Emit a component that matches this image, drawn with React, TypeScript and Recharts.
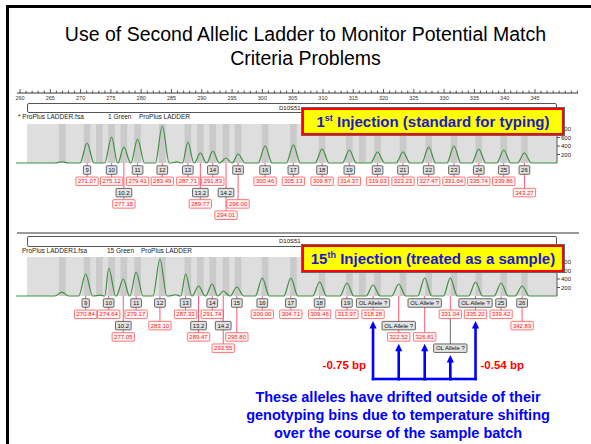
import React from 'react';
import { ComposedChart, Line, Scatter, XAxis, YAxis, ReferenceArea } from 'recharts';

const FONT = '"Liberation Sans", Arial, Helvetica, sans-serif';

// ---------- ruler (bp scale) ----------
const RULER_LABELS = [260, 265, 270, 275, 280, 285, 290, 295, 300, 305, 310, 315, 320, 325, 330, 335, 340, 345];
const RULER_MIN = 259.5;
const RULER_MAX = 352.1;
const RULER_TICKS: number[] = [];
for (let v = 260; v <= 352; v++) RULER_TICKS.push(v);

// ---------- electropherogram axes ----------
const X_MIN = 259.34;
const X_MAX = 348.65;
const GRAY_START = 261.16;
const GRAY_END = 348.65;
const Y_MAX = 920;
const Y_TICKS = [200, 400, 600, 800];

// genotyping bins (bp)
const BIN_CENTERS = [267.0, 271.07, 273.1, 275.12, 277.15, 279.41, 283.49, 287.71, 289.77, 291.83, 294.01, 296.0,
  300.46, 305.13, 309.87, 314.37, 316.5, 319.03, 323.23, 327.47, 331.64, 335.74, 339.86, 343.27];

// ---------- panel 1 : 1st injection ladder ----------
const LADDER_ALLELES = ['9', '10', '10.2', '11', '12', '13', '13.2', '14', '14.2', '15', '16', '17', '18', '19', '20', '21', '22', '23', '24', '25', '26'];
const LADDER_SIZES = [271.07, 275.12, 277.15, 279.41, 283.49, 287.71, 289.77, 291.83, 294.01, 296.0, 300.46, 305.13, 309.87, 314.37, 319.03, 323.23, 327.47, 331.64, 335.74, 339.86, 343.27];
const LADDER_HEIGHTS = [472, 613, 377, 566, 873, 495, 236, 283, 118, 212, 401, 425, 330, 307, 259, 259, 377, 401, 330, 307, 236];
const LADDER_MINOR_BP = [266.9, 285.9];
const LADDER_MINOR_H = [30, 25];
// label layout rows (1 = just under baseline)
const LADDER_GRAY_ROW = [1, 1, 3, 1, 1, 1, 3, 1, 3, 1, 1, 1, 1, 1, 1, 1, 1, 1, 1, 1, 1];
const LADDER_RED_ROW = [2, 2, 4, 2, 2, 2, 4, 2, 5, 4, 2, 2, 2, 2, 2, 2, 2, 2, 2, 2, 3];

// ---------- panel 2 : 15th injection (as sample) ----------
const SAMPLE_ALLELES = ['9', '10', '10.2', '11', '12', '13', '13.2', '14', '14.2', '15', '16', '17', '18', '19', 'OL Allele ?', 'OL Allele ?', 'OL Allele ?', 'OL Allele ?', 'OL Allele ?', '25', '26'];
const SAMPLE_SIZES = [270.84, 274.64, 277.05, 279.17, 283.10, 287.33, 289.47, 291.74, 293.55, 295.80, 300.00, 304.71, 309.46, 313.97, 318.28, 322.52, 326.81, 331.04, 335.20, 339.42, 342.89];
const SAMPLE_HEIGHTS = [519, 660, 401, 566, 873, 519, 236, 283, 118, 212, 425, 425, 330, 307, 260, 283, 425, 425, 330, 307, 236];
const SAMPLE_MINOR_BP = [266.9, 273.3, 285.7];
const SAMPLE_MINOR_H = [90, 20, 30];
const SAMPLE_GRAY_ROW = [1, 1, 3, 1, 1, 1, 3, 1, 3, 1, 1, 1, 1, 1, 1, 3, 1, 5, 1, 1, 1];
const SAMPLE_RED_ROW = [2, 2, 4, 2, 3, 2, 4, 2, 5, 4, 2, 2, 2, 2, 2, 4, 4, 2, 2, 2, 3];

const DRIFT_NOTES = ['-0.75 bp', '-0.54 bp'];

// ---------- layout constants ----------
const CHART_W = 591;
const PLOT_LEFT = 16;
const Y_AXIS_W = 22;
const RIGHT_MARGIN = 12;
const PLOT_H = 39;
const PX_PER_BP = (CHART_W - PLOT_LEFT - RIGHT_MARGIN - Y_AXIS_W) / (X_MAX - X_MIN);
const ROW0 = 7;
const ROW_STEP = 11.3;
const BOX_H = 8.5;
const BRACKET_DY = 83;
const PEAK_HALF = 1.15;

const CHAR_W: Record<string, number> = { '.': 0.278, ' ': 0.278, 'O': 0.778, 'L': 0.556, 'A': 0.667, 'l': 0.222, 'e': 0.556, '?': 0.556 };
function textW(s: string, fs: number) {
  let w = 0;
  for (const ch of s) w += CHAR_W[ch] !== undefined ? CHAR_W[ch] : 0.556;
  return w * fs;
}
const rowY = (cy: number, r: number) => cy + ROW0 + (r - 1) * ROW_STEP;

function buildTrace(sizes: number[], heights: number[], minorBp: number[], minorH: number[]) {
  const peaks = sizes.map((s, i) => ({ bp: s, h: heights[i] }))
    .concat(minorBp.map((b, i) => ({ bp: b, h: minorH[i] })))
    .sort((a, b) => a.bp - b.bp);
  const pts: { bp: number; rfu: number }[] = [{ bp: X_MIN, rfu: 0 }];
  peaks.forEach((p, i) => {
    const gl = i > 0 ? (p.bp - peaks[i - 1].bp) / 2 - 0.03 : PEAK_HALF;
    const gr = i < peaks.length - 1 ? (peaks[i + 1].bp - p.bp) / 2 - 0.03 : PEAK_HALF;
    pts.push({ bp: p.bp - Math.min(PEAK_HALF, gl), rfu: 0 });
    pts.push({ bp: p.bp, rfu: p.h });
    pts.push({ bp: p.bp + Math.min(PEAK_HALF, gr), rfu: 0 });
  });
  pts.push({ bp: X_MAX, rfu: 0 });
  return pts;
}

const LabelShape = (props: any) => {
  const { cx, cy, payload } = props;
  if (cx == null || cy == null) return <g />;
  const g = rowY(cy, payload.grayRow);
  const r = rowY(cy, payload.redRow);
  const gw = textW(payload.allele, 6) + 4;
  const rw = textW(payload.size, 6) + 4;
  return (
    <g fontFamily={FONT}>
      <line x1={cx} x2={cx} y1={cy} y2={r - BOX_H / 2} stroke="#f46" strokeWidth={0.9} />
      {payload.grayRow > payload.redRow && (
        <line x1={cx} x2={cx} y1={r + BOX_H / 2} y2={g - BOX_H / 2} stroke="#555" strokeWidth={0.9} />
      )}
      <rect x={cx - gw / 2} y={g - BOX_H / 2} width={gw} height={BOX_H} fill="#e2e2e2" stroke="#444" strokeWidth={0.8} rx={0.8} />
      <text x={cx} y={g + 2.1} fontSize={6} textAnchor="middle" fill="#111">{payload.allele}</text>
      <rect x={cx - rw / 2} y={r - BOX_H / 2} width={rw} height={BOX_H} fill="#fff4f4" stroke="#f55" strokeWidth={0.8} rx={0.8} />
      <text x={cx} y={r + 2.1} fontSize={6} textAnchor="middle" fill="#e22">{payload.size}</text>
    </g>
  );
};

const BracketShape = (props: any) => {
  const { cx, cy, payload } = props;
  if (cx == null || cy == null) return <g />;
  const tip = rowY(cy, payload.lowRow) + BOX_H / 2 + 2.5;
  const by = cy + BRACKET_DY;
  const blue = '#0000ff';
  return (
    <g fontFamily={FONT}>
      <line x1={cx} x2={cx} y1={by} y2={tip + 6} stroke={blue} strokeWidth={2.6} strokeLinecap="square" />
      <polygon points={`${cx - 3.6},${tip + 7.5} ${cx + 3.6},${tip + 7.5} ${cx},${tip}`} fill={blue} />
      {payload.prevBp != null && (
        <line x1={cx - (payload.bp - payload.prevBp) * PX_PER_BP} x2={cx} y1={by} y2={by} stroke={blue} strokeWidth={2.6} strokeLinecap="square" />
      )}
      {payload.noteLeft && (
        <text x={cx - 7} y={by - 10} fontSize={11.5} fontWeight="bold" fill="#ff0000" textAnchor="end">{payload.noteLeft}</text>
      )}
      {payload.noteRight && (
        <text x={cx + 5} y={by - 10} fontSize={11.5} fontWeight="bold" fill="#ff0000" textAnchor="start">{payload.noteRight}</text>
      )}
    </g>
  );
};

const RulerTick = (props: any) => {
  const { x, y, payload } = props;
  const v = payload.value;
  const major = RULER_LABELS.includes(v);
  return (
    <g>
      <line x1={x} x2={x} y1={y} y2={y - (major ? 4 : 2.5)} stroke="#333" strokeWidth={0.8} />
      {major && (
        <text x={x} y={y + 7} fontSize={5.5} textAnchor="middle" fill="#333" fontFamily={FONT}>{v}</text>
      )}
    </g>
  );
};

function Ruler({ top }: { top: number }) {
  return (
    <div style={{ position: 'absolute', left: 0, top }}>
      <ComposedChart width={CHART_W} height={24} data={[{ bp: 260 }]} margin={{ top: 0, right: 13, bottom: 10, left: 17 }}>
        <XAxis type="number" dataKey="bp" orientation="top" height={7} domain={[RULER_MIN, RULER_MAX]}
          ticks={RULER_TICKS} interval={0} tickSize={0} tickMargin={0} tick={<RulerTick />} stroke="#333" />
        <YAxis hide />
      </ComposedChart>
    </div>
  );
}

type PanelProps = {
  top: number; height: number; alleles: string[]; sizes: number[]; heights: number[];
  minorBp: number[]; minorH: number[]; grayRows: number[]; redRows: number[]; bracket?: boolean;
};

function Panel(p: PanelProps) {
  const trace = buildTrace(p.sizes, p.heights, p.minorBp, p.minorH);
  const labels = p.sizes.map((s, i) => ({
    bp: s, rfu: 0, allele: p.alleles[i], size: s.toFixed(2), grayRow: p.grayRows[i], redRow: p.redRows[i],
  }));
  let bracketData: any[] = [];
  if (p.bracket) {
    const drifted = labels.filter((l) => l.allele.startsWith('OL'));
    bracketData = drifted.map((d, k) => ({
      bp: d.bp, rfu: 0, lowRow: Math.max(d.grayRow, d.redRow),
      prevBp: k > 0 ? drifted[k - 1].bp : null,
      noteLeft: k === 0 ? DRIFT_NOTES[0] : null,
      noteRight: k === drifted.length - 1 ? DRIFT_NOTES[1] : null,
    }));
  }
  return (
    <div style={{ position: 'absolute', left: 0, top: p.top }}>
      <ComposedChart width={CHART_W} height={p.height} data={trace}
        margin={{ top: 24, right: RIGHT_MARGIN, bottom: p.height - 24 - PLOT_H, left: PLOT_LEFT }}>
        <XAxis type="number" dataKey="bp" domain={[X_MIN, X_MAX]} hide />
        <YAxis orientation="right" type="number" domain={[0, Y_MAX]} ticks={Y_TICKS} interval={0} width={Y_AXIS_W}
          tickSize={3} tickMargin={1} tick={{ fontSize: 6, fill: '#222', fontFamily: FONT }} stroke="#555" />
        <ReferenceArea x1={GRAY_START} x2={GRAY_END} y1={0} y2={Y_MAX} fill="#dedede" fillOpacity={1} stroke="none" ifOverflow="visible" />
        {BIN_CENTERS.map((c) => (
          <ReferenceArea key={c} x1={c - 0.55} x2={c + 0.55} y1={0} y2={Y_MAX} fill="#cacaca" fillOpacity={1} stroke="none" />
        ))}
        <Line type="monotone" dataKey="rfu" stroke="#3f8f3f" strokeWidth={1.2} dot={false} activeDot={false} isAnimationActive={false} />
        <Scatter data={labels} dataKey="rfu" shape={LabelShape} isAnimationActive={false} />
        {p.bracket && <Scatter data={bracketData} dataKey="rfu" shape={BracketShape} isAnimationActive={false} />}
      </ComposedChart>
    </div>
  );
}

const abs = (s: React.CSSProperties): React.CSSProperties => ({ position: 'absolute', ...s });

function Callout({ top, num, sup, text }: { top: number; num: string; sup: string; text: string }) {
  return (
    <div style={abs({
      left: 302, top, width: 262, height: 27, boxSizing: 'border-box', background: '#ffff00',
      border: '2.5px solid #ff0000', outline: '1px solid #666', display: 'flex', alignItems: 'center', justifyContent: 'center',
      fontFamily: FONT, fontWeight: 'bold', fontSize: 15, color: '#1a1acc', whiteSpace: 'nowrap',
    })}>
      <span>{num}<sup style={{ fontSize: 9, verticalAlign: 'top', lineHeight: '10px' }}>{sup}</sup>{text}</span>
    </div>
  );
}

function InfoLine({ top, parts }: { top: number; parts: [number, string][] }) {
  return (
    <>
      {parts.map(([x, t]) => (
        <div key={t} style={abs({ left: x, top, fontFamily: FONT, fontSize: 6.5, color: '#222', whiteSpace: 'nowrap', lineHeight: '8px' })}>{t}</div>
      ))}
    </>
  );
}

function MarkerBar({ top, h }: { top: number; h: number }) {
  return (
    <>
      <div style={abs({ left: 27, top, width: 530, height: h, boxSizing: 'border-box', border: '1px solid #555', borderRadius: 2, background: '#fff' })} />
      <div style={abs({ left: 279, top: top + 2, fontFamily: FONT, fontSize: 6, lineHeight: '7px', color: '#111' })}>D10S51</div>
    </>
  );
}

export default function App() {
  return (
    <div style={abs({ left: 0, top: 0, width: 591, height: 444, overflow: 'hidden', background: '#fff' })}>
      <div style={abs({ left: 6, top: 5, width: 620, height: 460, borderLeft: '3px solid #000', borderTop: '3px solid #000' })} />
      <div style={abs({ left: 0, top: 22, width: 611, textAlign: 'center', fontFamily: FONT, fontSize: 19.5, lineHeight: '24px', color: '#000' })}>
        Use of Second Allelic Ladder to Monitor Potential Match<br />Criteria Problems
      </div>

      <Ruler top={86} />
      <Panel top={100} height={125} alleles={LADDER_ALLELES} sizes={LADDER_SIZES} heights={LADDER_HEIGHTS}
        minorBp={LADDER_MINOR_BP} minorH={LADDER_MINOR_H} grayRows={LADDER_GRAY_ROW} redRows={LADDER_RED_ROW} />
      <Panel top={233} height={160} alleles={SAMPLE_ALLELES} sizes={SAMPLE_SIZES} heights={SAMPLE_HEIGHTS}
        minorBp={SAMPLE_MINOR_BP} minorH={SAMPLE_MINOR_H} grayRows={SAMPLE_GRAY_ROW} redRows={SAMPLE_RED_ROW} bracket />

      <MarkerBar top={103} h={10} />
      <InfoLine top={113} parts={[[18, '* ProPlus LADDER.fsa'], [108, '1 Green'], [139, 'ProPlus LADDER']]} />

      <div style={abs({ left: 17, top: 232, width: 562, height: 2, background: '#9a9a9a' })} />
      <MarkerBar top={236} h={11} />
      <InfoLine top={247} parts={[[22, 'ProPlus LADDER1.fsa'], [107, '15 Green'], [141, 'ProPlus LADDER ']]} />

      <Callout top={108} num="1" sup="st" text=" Injection (standard for typing)" />
      <Callout top={245} num="15" sup="th" text=" Injection (treated as a sample)" />

      <div style={abs({ left: 200, top: 388, width: 396, textAlign: 'center', fontFamily: FONT, fontWeight: 'bold', fontSize: 14.5, lineHeight: '18px', color: '#0000ff' })}>
        These alleles have drifted outside of their<br />genotyping bins due to temperature shifting<br />over the course of the sample batch
      </div>
    </div>
  );
}
